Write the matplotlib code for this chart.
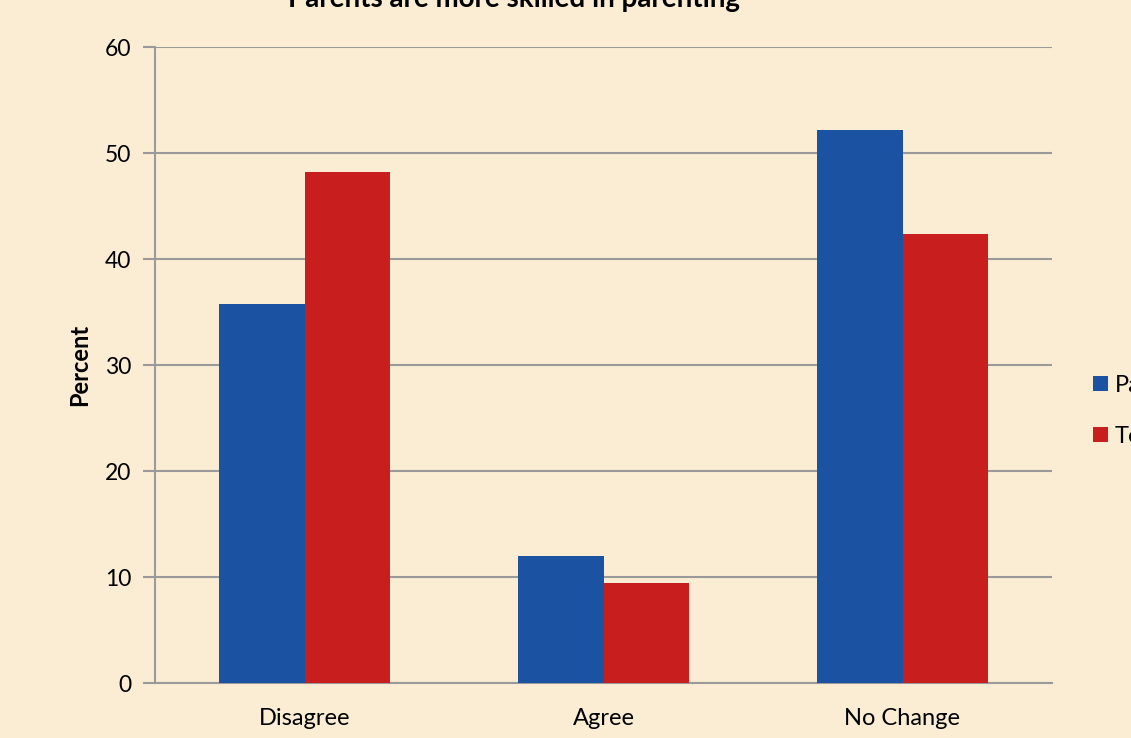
import numpy as np
import matplotlib
matplotlib.use("Agg")
import matplotlib.pyplot as plt

# survey responses, percent
categories = ["Disagree", "Agree", "No Change"]
parents = [35.8, 12.0, 52.2]
teachers = [48.2, 9.4, 42.4]
series_names = ["Parents", "Teachers"]

bg = "#FBEDD4"
blue = "#1B52A2"
red = "#C81E1E"
grid = "#9A9A9A"

plt.rcParams["font.family"] = ["Lato", "DejaVu Sans"]

fig = plt.figure(figsize=(11.31, 7.38), dpi=100, facecolor=bg)
ax = fig.add_axes([155 / 1131, 55 / 738, 897 / 1131, 636 / 738])
ax.set_facecolor(bg)

x = np.arange(len(categories))
w = 0.285
ax.bar(x - w / 2, parents, w, color=blue, label=series_names[0], zorder=3)
ax.bar(x + w / 2, teachers, w, color=red, label=series_names[1], zorder=3)

ax.set_xlim(-0.5, 2.5)
ax.set_ylim(0, 60)
ax.set_yticks(range(0, 61, 10))
ax.set_xticks(x)
ax.set_xticklabels(categories)
ax.yaxis.grid(True, color=grid, linewidth=1.5, zorder=0)
ax.set_axisbelow(True)

for s in ["top", "right"]:
    ax.spines[s].set_visible(False)
for s in ["left", "bottom"]:
    ax.spines[s].set_color(grid)
    ax.spines[s].set_linewidth(1.5)

ax.tick_params(axis="y", length=9, width=1.5, color=grid, labelsize=16.5, pad=8)
ax.tick_params(axis="x", length=0, labelsize=17, pad=18)
ax.set_ylabel("Percent", fontsize=17, fontweight="bold", labelpad=10)

fig.text(514 / 1131, (738 - 7) / 738, "Parents are more skilled in parenting",
         ha="center", va="baseline", fontsize=20, fontweight="bold")

fig.legend(loc="center left", bbox_to_anchor=(1084 / 1131, 1 - 411 / 738),
           frameon=False, fontsize=17, handlelength=0.6, handleheight=0.6,
           handletextpad=0.3, labelspacing=1.25, borderaxespad=0)

fig.savefig("out.png", dpi=100, facecolor=bg)
